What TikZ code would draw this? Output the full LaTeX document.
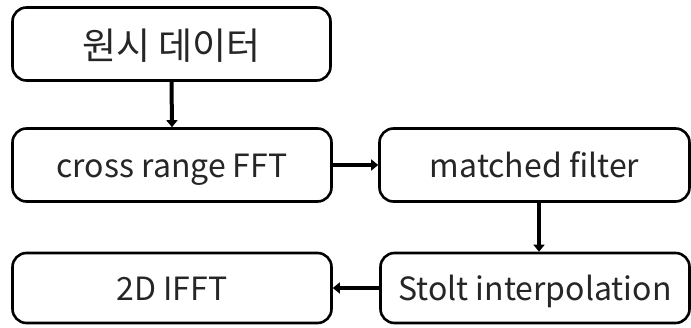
\documentclass[tikz,border=0pt]{standalone}
\usepackage{fontspec}
\setmainfont{Noto Sans CJK KR}
\usetikzlibrary{arrows.meta}
\begin{document}
\begin{tikzpicture}[x=1pt,y=-1pt,
  box/.style={draw=black, line width=2.6pt, rounded corners=14pt, fill=white, inner sep=0pt, font=\fontsize{32}{38}\selectfont, text=black!85, text height=26pt, text depth=0pt},
  arr/.style={line width=4pt, -{Triangle[length=7pt,width=11pt]}}]
\useasboundingbox (0,0) rectangle (691,328);
\node[box, minimum width=318pt, minimum height=73pt, font=\fontsize{37}{44}\selectfont, text height=32pt] (raw) at (171.5,44) {원시 데이터};
\node[box, minimum width=319pt, minimum height=73pt] (crf) at (172,165) {cross range FFT};
\node[box, minimum width=310pt, minimum height=73pt] (mf) at (534.5,165) {matched filter};
\node[box, minimum width=319pt, minimum height=70pt] (ifft) at (172,288) {2D IFFT};
\node[box, minimum width=309pt, minimum height=70pt] (stolt) at (535,288) {Stolt interpolation};
\draw[arr] (raw.south) -- (crf.north);
\draw[arr] (crf.east) -- (mf.west);
\draw[arr] (mf.south -| 539,0) -- (stolt.north -| 539,0);
\draw[arr] (stolt.west) -- (ifft.east);
\end{tikzpicture}
\end{document}
